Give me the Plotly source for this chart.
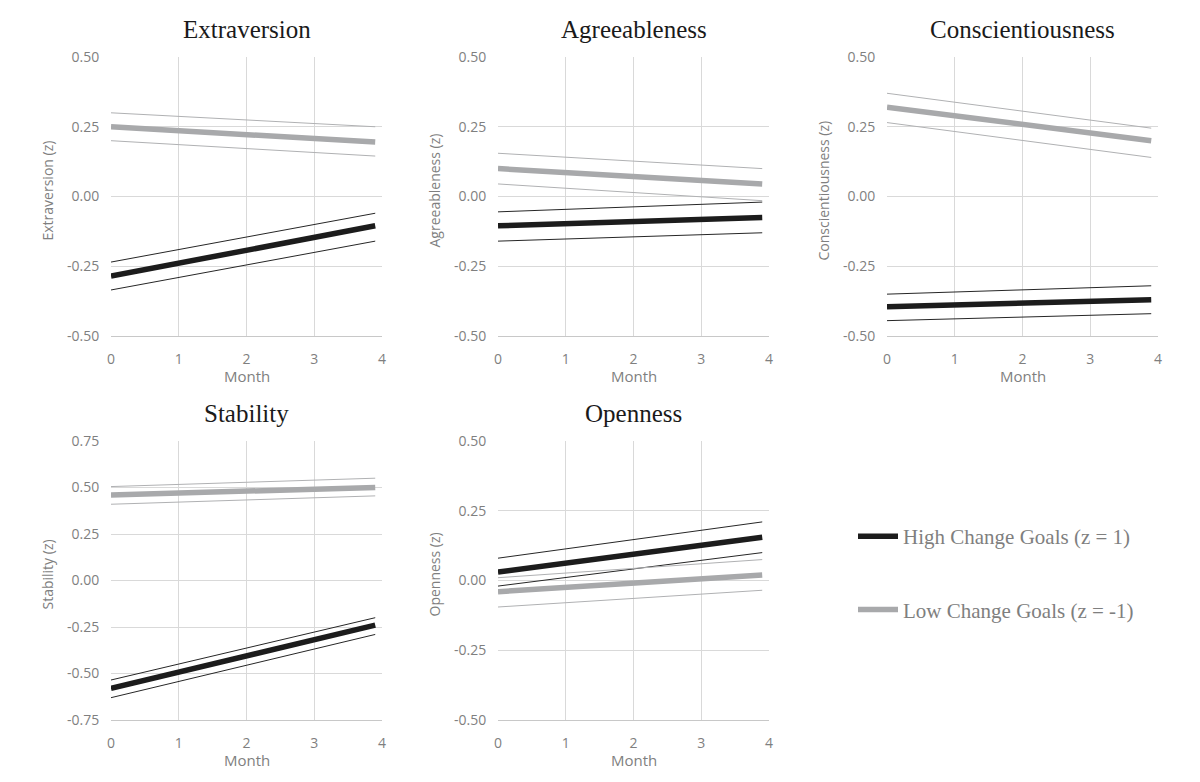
import plotly.graph_objects as go

months = [0, 3.9]

panels = ["Extraversion", "Agreeableness", "Conscientiousness", "Stability", "Openness"]
y_titles = ["Extraversion (z)", "Agreeableness (z)", "Conscientiousness (z)", "Stability (z)", "Openness (z)"]

# High Change Goals (z = 1): estimate, upper CI, lower CI  (start, end)
high_est = [[-0.285, -0.105], [-0.105, -0.075], [-0.395, -0.370], [-0.580, -0.240], [0.030, 0.155]]
high_up = [[-0.235, -0.060], [-0.055, -0.020], [-0.350, -0.320], [-0.535, -0.200], [0.080, 0.210]]
high_lo = [[-0.335, -0.160], [-0.160, -0.130], [-0.445, -0.420], [-0.630, -0.290], [-0.020, 0.100]]

# Low Change Goals (z = -1)
low_est = [[0.250, 0.195], [0.100, 0.045], [0.320, 0.200], [0.460, 0.500], [-0.040, 0.020]]
low_up = [[0.300, 0.250], [0.155, 0.100], [0.370, 0.245], [0.505, 0.550], [0.010, 0.075]]
low_lo = [[0.200, 0.145], [0.045, -0.015], [0.265, 0.140], [0.410, 0.455], [-0.095, -0.035]]

y_ranges = [[-0.5, 0.5], [-0.5, 0.5], [-0.5, 0.5], [-0.75, 0.75], [-0.5, 0.5]]
y_tick_std = [-0.5, -0.25, 0.0, 0.25, 0.5]
y_tick_std_text = ["-0.50", "-0.25", "0.00", "0.25", "0.50"]
y_tick_stab = [-0.75, -0.5, -0.25, 0.0, 0.25, 0.5, 0.75]
y_tick_stab_text = ["-0.75", "-0.50", "-0.25", "0.00", "0.25", "0.50", "0.75"]
x_ticks = [0, 1, 2, 3, 4]
x_tick_text = ["0", "1", "2", "3", "4"]

legend_names = ["High Change Goals (z = 1)", "Low Change Goals (z = -1)"]

# the page places the figure 8px from the window's top-left corner
OFF = 8
W, H = 1200 - OFF, 782 - OFF
# plot-area pixel boxes in window coordinates (left, right, top, bottom)
boxes = [
    (111, 382, 57, 336),
    (498, 769, 57, 336),
    (887, 1158, 57, 336),
    (111, 382, 441, 720),
    (498, 769, 441, 720),
]


def px(v):
    return (v - OFF) / W


def py(v):
    return 1 - (v - OFF) / H


BLACK = "#1c1c1c"
GRAY = "#a8a9ab"
CI_BLACK = "#262626"
CI_GRAY = "#b0b1b3"
TICK_COLOR = "#7f7f7f"
GRID = "#d9d9d9"
AXIS = "#c8c8c8"
CLEAR = "rgba(0,0,0,0)"

fig = go.Figure()
layout = {}
annotations = []
for i in range(5):
    n = "" if i == 0 else str(i + 1)
    xa, ya = "x" + n, "y" + n
    l, r, t, b = boxes[i]
    if i == 3:
        yt, ytt = y_tick_stab, y_tick_stab_text
    else:
        yt, ytt = y_tick_std, y_tick_std_text
    layout["xaxis" + n] = dict(
        domain=[px(l), px(r)], range=[0, 4], anchor=ya, automargin=False,
        tickvals=x_ticks, ticktext=x_tick_text,
        showgrid=True, gridcolor=GRID, gridwidth=1,
        zeroline=False, showline=True, linecolor=AXIS, linewidth=1,
        ticks="outside", ticklen=10, tickcolor=CLEAR,
        tickfont=dict(family="Open Sans", size=14, color=TICK_COLOR),
    )
    layout["yaxis" + n] = dict(
        domain=[py(b), py(t)], range=y_ranges[i], anchor=xa, automargin=False,
        tickvals=yt, ticktext=ytt,
        showgrid=True, gridcolor=GRID, gridwidth=1,
        zeroline=False, showline=False,
        ticks="outside", ticklen=8, tickcolor=CLEAR,
        tickfont=dict(family="Open Sans", size=14, color=TICK_COLOR),
    )
    annotations.append(dict(
        text=panels[i], x=px((l + r) / 2), y=py(t - 28), xref="paper", yref="paper",
        showarrow=False, font=dict(family="Liberation Serif", size=25, color="#1a1a1a"),
        xanchor="center", yanchor="middle",
    ))
    annotations.append(dict(
        text="Month", x=px((l + r) / 2), y=py(b + 40), xref="paper", yref="paper",
        showarrow=False, font=dict(family="Open Sans", size=15, color=TICK_COLOR),
        xanchor="center", yanchor="middle",
    ))
    annotations.append(dict(
        text=y_titles[i], x=px(l - 64), y=py((t + b) / 2 - 6), xref="paper", yref="paper",
        showarrow=False, textangle=-90, font=dict(family="Open Sans", size=14, color=TICK_COLOR),
        xanchor="center", yanchor="middle",
    ))

    for ys, col in [(high_up[i], CI_BLACK), (high_lo[i], CI_BLACK), (low_up[i], CI_GRAY), (low_lo[i], CI_GRAY)]:
        fig.add_trace(go.Scatter(x=months, y=ys, mode="lines", line=dict(color=col, width=1),
                                 xaxis=xa, yaxis=ya, showlegend=False, hoverinfo="skip"))
    fig.add_trace(go.Scatter(x=months, y=low_est[i], mode="lines", line=dict(color=GRAY, width=5.5),
                             xaxis=xa, yaxis=ya, name=legend_names[1], legendgroup="low",
                             showlegend=(i == 0), legendrank=2))
    fig.add_trace(go.Scatter(x=months, y=high_est[i], mode="lines", line=dict(color=BLACK, width=5.5),
                             xaxis=xa, yaxis=ya, name=legend_names[0], legendgroup="high",
                             showlegend=(i == 0), legendrank=1))

fig.update_layout(
    width=W, height=H,
    margin=dict(l=0, r=0, t=0, b=0, autoexpand=False),
    paper_bgcolor="white", plot_bgcolor="white",
    annotations=annotations,
    legend=dict(x=px(853), y=py(516), xanchor="left", yanchor="top",
                font=dict(family="Liberation Serif", size=21, color="#7f7f7f"),
                traceorder="grouped", tracegroupgap=43, itemwidth=40,
                bgcolor="rgba(0,0,0,0)"),
    **layout,
)

fig.write_html("out.html")
